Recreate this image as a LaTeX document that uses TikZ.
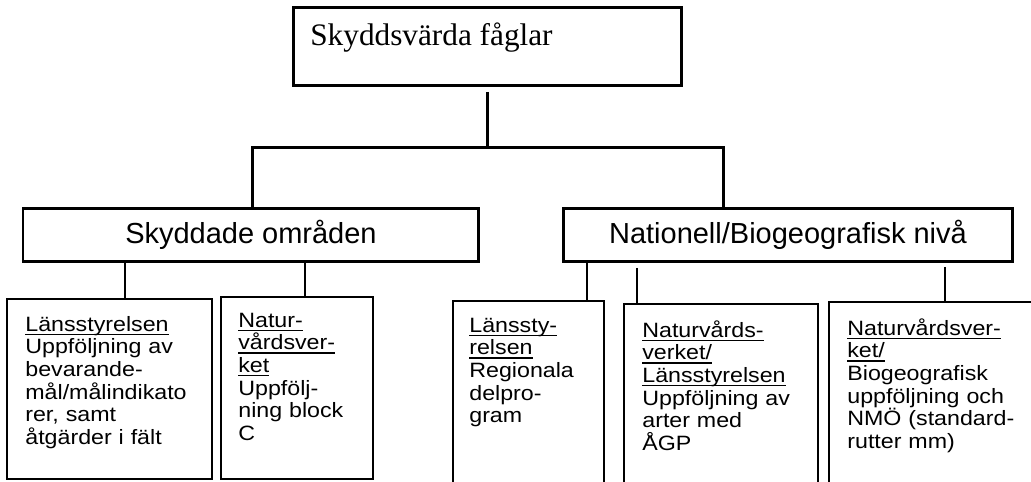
\documentclass[tikz,border=0pt]{standalone}
\usepackage{fontspec}
\newfontfamily\titlefont{Liberation Serif}
\newfontfamily\midfont{Liberation Sans}
\newfontfamily\lowfont[FakeStretch=1.12]{Liberation Sans}
% underline at a fixed depth, also through descenders
\newcommand{\undr}[1]{\leavevmode\setbox0\hbox{#1}\rlap{\rule[-2.2pt]{\wd0}{0.6pt}}\box0}
\tikzset{
  heavy/.style={line width=0.06cm},
  light/.style={line width=0.03cm},
  topbox/.style={heavy, draw, rectangle, inner sep=0pt, outer sep=0pt, anchor=north west},
  midbox/.style={heavy, draw, rectangle, inner sep=0pt, outer sep=0pt, anchor=north west,
    font=\midfont\fontsize{16.5pt}{19pt}\selectfont},
  lowbox/.style={light, draw, rectangle, inner sep=0pt, outer sep=0pt, anchor=north west},
  lowtext/.style={anchor=base west, inner sep=0pt, align=left,
    font=\lowfont\fontsize{11.8pt}{12.9pt}\selectfont}
}
\begin{document}
\begin{tikzpicture}[x=0.02cm, y=-0.02cm]
    \clip (0,0) rectangle (1031,481);
    \fill [white] (0,0) rectangle (1031,481);

    % Top level
    \node [topbox, minimum width=7.78cm, minimum height=1.58cm] (skydd) at (293,7) {};
    \node [anchor=base west, inner sep=0pt, font=\titlefont\fontsize{17.8pt}{20pt}\selectfont] (titel) at (310,45) {Skyddsvärda fåglar};

    % Second level
    \node [midbox, minimum width=9.12cm, minimum height=1.08cm] (omr) at (23,208) {Skyddade områden};
    \node [midbox, minimum width=9.00cm, minimum height=1.08cm] (niva) at (563,208) {Nationell/Biogeografisk nivå};

    % Third level boxes
    \node [lowbox, minimum width=4.10cm, minimum height=3.60cm] (lst1) at (7,299) {};
    \node [lowbox, minimum width=3.04cm, minimum height=3.64cm] (nv1) at (221,297) {};
    \node [lowbox, minimum width=3.02cm, minimum height=4.00cm] (lst2) at (453,301) {};
    \node [lowbox, minimum width=3.88cm, minimum height=4.00cm] (nvl) at (624,304) {};
    \node [lowbox, minimum width=4.40cm, minimum height=4.00cm] (nv2) at (829,302) {};

    % Third level texts
    \node [lowtext, text width=3.7cm] (lst1t) at (25,331) {\undr{Länsstyrelsen}\\Uppföljning av\\bevarande-\\mål/målindikato\\rer, samt\\åtgärder i fält};
    \node [lowtext, text width=2.7cm] (nv1t) at (238,327) {\undr{Natur-}\\\undr{vårdsver-}\\\undr{ket}\\Uppfölj-\\ning block\\C};
    \node [lowtext, text width=2.7cm] (lst2t) at (469,332) {\undr{Länssty-}\\\undr{relsen}\\Regionala\\delpro-\\gram};
    \node [lowtext, text width=3.5cm] (nvlt) at (642,337) {\undr{Naturvårds-}\\\undr{verket/}\\\undr{Länsstyrelsen}\\Uppföljning av\\arter med\\ÅGP};
    \node [lowtext, text width=3.8cm] (nv2t) at (847,335) {\undr{Naturvårdsver-}\\\undr{ket/}\\Biogeografisk\\uppföljning och\\NMÖ (standard-\\rutter mm)};

    % Connector points
    \coordinate (bar) at (487,147);
    \coordinate (vl) at (252,147);
    \coordinate (vr) at (723,147);
    \coordinate (xa) at (125,0);
    \coordinate (xb) at (305,0);
    \coordinate (xc) at (587,0);
    \coordinate (xd) at (637,0);
    \coordinate (xe) at (945,0);

    % Drawing heavy connectors
    \draw [heavy, shorten <=0.12cm] (skydd.south) -- (skydd.south |- bar);
    \draw [heavy] (vl |- omr.north) -- (vl) -- (vr) -- (vr |- niva.north);

    % Drawing light connectors
    \draw [light] (xa |- omr.south) -- (xa |- lst1.north);
    \draw [light] (xb |- omr.south) -- (xb |- nv1.north);
    \draw [light] (xc |- niva.south) -- (xc |- lst2.north);
    \draw [light, shorten <=0.12cm] (xd |- niva.south) -- (xd |- nvl.north);
    \draw [light, shorten <=0.10cm] (xe |- niva.south) -- (xe |- nv2.north);
\end{tikzpicture}
\end{document}
